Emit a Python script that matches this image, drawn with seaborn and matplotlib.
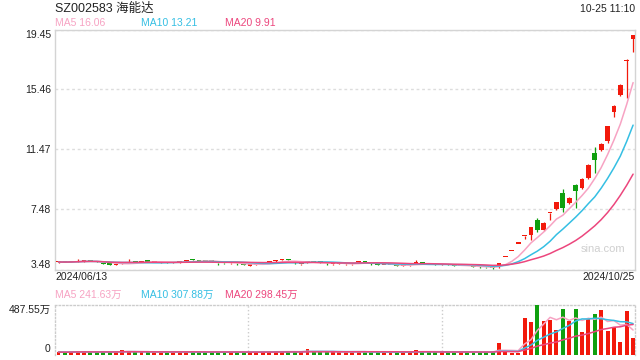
import seaborn as sns
import pandas as pd
import numpy as np
import matplotlib.pyplot as plt

# daily K-line, 2024/06/13 .. 2024/10/25 (91 trading days)
opens = [3.96, 3.98, 3.97, 3.99, 4.03, 4.08, 4.02, 3.92, 3.84, 3.78,
         3.86, 3.92, 4.00, 3.97, 4.02, 3.98, 3.93, 3.95, 3.90, 3.96,
         4.02, 4.10, 4.07, 4.05, 4.03, 3.92, 3.91, 3.88, 3.90, 3.80,
         3.74, 3.79, 3.86, 3.95, 4.02, 4.09, 4.12, 3.93, 3.82, 3.95,
         4.02, 3.98, 3.92, 3.82, 3.84, 3.82, 3.82, 3.95, 4.01, 3.86,
         3.84, 3.77, 3.77, 3.76, 3.73, 3.76, 3.93, 3.92, 3.86, 3.81,
         3.78, 3.80, 3.73, 3.70, 3.72, 3.68, 3.66, 3.64, 3.60,
         3.62, 4.30, 4.73, 5.20, 5.72, 5.75, 6.80, 6.12, 7.25, 7.50,
         8.57, 7.90, 9.12, 8.90, 9.55, 11.23, 11.43, 12.00, 13.98, 15.09,
         17.35, 18.80]
closes = [3.98, 3.97, 3.99, 4.05, 4.08, 4.04, 3.98, 3.85, 3.80, 3.84,
          3.88, 3.96, 3.97, 3.98, 4.00, 3.99, 3.95, 3.92, 3.93, 4.00,
          4.06, 4.08, 4.06, 4.04, 4.02, 3.88, 3.89, 3.91, 3.88, 3.77,
          3.78, 3.81, 3.88, 3.98, 4.06, 4.12, 4.09, 3.90, 3.84, 3.98,
          3.99, 3.96, 3.89, 3.85, 3.86, 3.85, 3.84, 3.97, 3.99, 3.83,
          3.81, 3.79, 3.79, 3.73, 3.75, 3.78, 3.95, 3.90, 3.85, 3.79,
          3.80, 3.78, 3.71, 3.72, 3.70, 3.66, 3.63, 3.62, 3.55,
          3.90, 4.30, 4.73, 5.20, 5.72, 6.29, 6.08, 6.59, 7.25, 7.97,
          7.57, 8.24, 8.72, 9.50, 10.45, 10.77, 11.85, 13.04, 14.34, 15.77,
          17.35, 19.08]
highs = [4.00, 4.00, 4.01, 4.18, 4.10, 4.10, 4.04, 3.93, 3.86, 3.86,
         3.90, 4.15, 4.02, 4.00, 4.04, 4.01, 3.97, 3.97, 3.95, 4.02,
         4.08, 4.12, 4.09, 4.06, 4.04, 3.94, 3.92, 3.93, 3.92, 3.82,
         3.80, 3.83, 3.90, 4.00, 4.08, 4.14, 4.14, 3.95, 3.86, 4.05,
         4.04, 4.00, 3.94, 3.87, 3.88, 3.87, 3.86, 4.00, 4.04, 3.88,
         3.86, 3.81, 3.81, 3.78, 3.77, 3.80, 4.10, 3.95, 3.88, 3.83,
         3.82, 3.82, 3.75, 3.74, 3.74, 3.70, 3.68, 3.66, 3.62,
         3.91, 4.30, 4.73, 5.20, 5.72, 6.29, 6.92, 6.62, 7.25, 8.00,
         8.84, 8.30, 9.15, 9.55, 10.50, 11.65, 11.90, 13.04, 14.40, 15.80,
         17.47, 19.10]
lows = [3.94, 3.95, 3.95, 3.97, 4.01, 4.02, 3.96, 3.83, 3.78, 3.76,
        3.84, 3.90, 3.95, 3.95, 3.98, 3.96, 3.91, 3.90, 3.88, 3.94,
        4.00, 4.06, 4.04, 4.02, 4.00, 3.80, 3.86, 3.86, 3.80, 3.75,
        3.72, 3.77, 3.84, 3.93, 4.00, 4.07, 4.07, 3.85, 3.80, 3.93,
        3.97, 3.94, 3.80, 3.80, 3.82, 3.80, 3.80, 3.93, 3.97, 3.81,
        3.76, 3.75, 3.75, 3.71, 3.71, 3.74, 3.90, 3.84, 3.83, 3.77,
        3.76, 3.76, 3.69, 3.68, 3.68, 3.64, 3.61, 3.60, 3.50,
        3.58, 4.30, 4.73, 5.20, 5.48, 5.45, 5.96, 6.02, 6.80, 7.45,
        7.31, 7.85, 7.59, 8.85, 9.50, 9.90, 11.35, 11.90, 13.65, 15.00,
        14.87, 17.97]
# volume in 万 (10k shares)
volumes = [24, 22, 26, 30, 28, 25, 22, 27, 24, 26,
           42, 30, 25, 22, 24, 21, 23, 22, 25, 27,
           28, 24, 22, 20, 21, 25, 23, 24, 22, 26,
           27, 24, 25, 28, 30, 32, 27, 26, 25, 50,
           30, 26, 24, 25, 23, 24, 26, 28, 25, 22,
           23, 24, 22, 23, 22, 24, 43, 28, 24, 23,
           22, 23, 26, 24, 22, 23, 21, 24, 28,
           110, 25, 15, 10, 357, 318, 487.55, 328, 338, 240,
           446, 328, 446, 217, 348, 394, 436, 230, 266, 121,
           427, 161]

price_ticks = [3.48, 7.48, 11.47, 15.46, 19.45]
vol_max = 487.55
ma_windows = [5, 10, 20]
ma_colors = ["#f7a3c3", "#35bfe3", "#ec467d"]
price_ma_text = ["MA5 16.06", "MA10 13.21", "MA20 9.91"]
vol_ma_text = ["MA5 241.63万", "MA10 307.88万", "MA20 298.45万"]

df = pd.DataFrame({"open": opens, "close": closes, "high": highs,
                   "low": lows, "vol": volumes})
df["i"] = np.arange(len(df))
for w in ma_windows:
    df[f"ma{w}"] = df["close"].rolling(w, min_periods=1).mean()
    df[f"vma{w}"] = df["vol"].rolling(w, min_periods=1).mean()

RED, GREEN = "#f2190b", "#0fa00f"
up = df["close"] >= df["open"]
colors = np.where(up, RED, GREEN)

sns.set_theme(style="white")
plt.rcParams["font.family"] = ["Liberation Sans", "Noto Sans CJK SC", "DejaVu Sans"]

W, H = 640, 360
fig = plt.figure(figsize=(6.4, 3.6), dpi=100)
ax = fig.add_axes([55 / W, 1 - 269.5 / H, 580 / W, 240 / H])
axv = fig.add_axes([55 / W, 1 - 354.5 / H, 580 / W, 49.5 / H])

# candles
body_lo = df[["open", "close"]].min(axis=1)
body_h = np.maximum((df["close"] - df["open"]).abs(), 0.08)
ax.vlines(df["i"], df["low"], df["high"], colors=colors, linewidth=0.9, zorder=3)
ax.bar(df["i"], body_h, bottom=body_lo, width=0.75, color=colors, linewidth=0, zorder=4)
for w, c in zip(ma_windows, ma_colors):
    sns.lineplot(data=df, x="i", y=f"ma{w}", ax=ax, color=c, linewidth=1.1, zorder=5)

ax.set_xlim(-0.55, 90.3)
ax.set_ylim(price_ticks[0], price_ticks[-1])
ax.set_yticks(price_ticks)
ax.set_yticklabels([f"{t:.2f}" for t in price_ticks])
ax.set_xticks([])
ax.set_xlabel("")
ax.set_ylabel("")
ax.tick_params(axis="y", length=0, pad=3, labelsize=7.5, labelcolor="#222")
labs = ax.get_yticklabels()
labs[0].set_va("bottom")
labs[-1].set_va("top")
ax.grid(axis="y", color="#dddddd", linestyle=(0, (2, 2)), linewidth=1)
for s in ax.spines.values():
    s.set_color("#d4d4d4")
    s.set_linewidth(1)
ax.text(0.945, 0.085, "sina.com", transform=ax.transAxes, ha="center", va="center",
        fontsize=8, color="#cfcfcf")

# volume
axv.bar(df["i"], df["vol"], width=0.62, color=colors, linewidth=0, zorder=3)
for w, c in zip(ma_windows, ma_colors):
    sns.lineplot(data=df, x="i", y=f"vma{w}", ax=axv, color=c, linewidth=1.1, zorder=4)
axv.set_xlim(-0.55, 90.3)
axv.set_ylim(0, vol_max)
axv.set_yticks([0, vol_max])
axv.set_yticklabels(["0", "487.55万"])
axv.set_xticks([])
axv.set_xlabel("")
axv.set_ylabel("")
axv.tick_params(axis="y", length=0, pad=3, labelsize=7.5, labelcolor="#222")
vl = axv.get_yticklabels()
vl[0].set_va("bottom")
vl[1].set_va("top")
axv.spines["bottom"].set_visible(False)
for k in ["top", "left", "right"]:
    axv.spines[k].set_color("#cccccc")
    axv.spines[k].set_linestyle(":")
    axv.spines[k].set_linewidth(1)
x0, x1 = axv.get_xlim()
for f in (1 / 3, 2 / 3):
    axv.axvline(x0 + (x1 - x0) * f, color="#cccccc", linestyle=":", linewidth=1, zorder=1)

# texts
def ftext(x, y, s, **kw):
    fig.text(x / W, 1 - y / H, s, **kw)

ftext(55, 8.5, "SZ002583 海能达", fontsize=9, color="#222", va="center")
ftext(635, 8.5, "10-25 11:10", fontsize=7.5, color="#222", va="center", ha="right")
for xx, s, c in zip([55, 141, 225], price_ma_text, ma_colors):
    ftext(xx, 23.5, s, fontsize=7.5, color=c, va="center")
for xx, s, c in zip([55, 141, 225], vol_ma_text, ma_colors):
    ftext(xx, 295, s, fontsize=7.5, color=c, va="center")
ftext(55, 277.5, "2024/06/13", fontsize=7.5, color="#222", va="center")
ftext(635, 277.5, "2024/10/25", fontsize=7.5, color="#222", va="center", ha="right")

fig.savefig("out.png", dpi=100)
plt.close(fig)
